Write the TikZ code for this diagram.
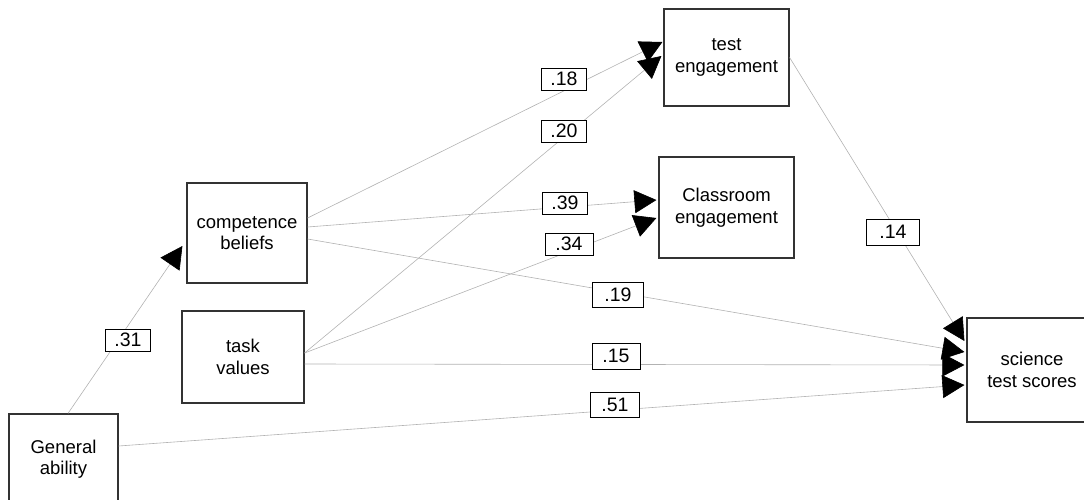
\documentclass[tikz,border=0pt]{standalone}
\usepackage{fontspec}
\setmainfont{Liberation Sans}
\usetikzlibrary{arrows.meta}
\tikzset{
  var/.style={draw=black!80,line width=1.2pt,fill=white,align=center,inner sep=0pt,
    font=\fontsize{18.5}{21.5}\selectfont},
  coef/.style={draw=black,line width=0.9pt,fill=white,inner sep=0pt,
    minimum width=45pt,minimum height=22pt,font=\fontsize{19.5}{22}\selectfont},
  link/.style={draw=black!30,line width=0.6pt,
    -{Triangle[length=22pt,width=23pt,color=black]}}
}
\begin{document}
\begin{tikzpicture}[x=1pt,y=-1pt]
%\draw[step=50,gray,very thin] (0,0) grid (1084,500); %background grid
\useasboundingbox (0,0) rectangle (1084,500);
\clip (0,0) rectangle (1084,500);

\node[var,minimum width=109pt,minimum height=90pt] (gen) at (63.5,459) {General\\ability};
\node[var,minimum width=120pt,minimum height=100pt] (comp) at (247,233) {competence\\beliefs};
\node[var,minimum width=122pt,minimum height=92pt] (task) at (243,357) {task\\values};
\node[var,minimum width=125pt,minimum height=97pt] (teng) at (726.5,57.5) {test\\engagement};
\node[var,minimum width=135pt,minimum height=101pt] (ceng) at (726.5,207.5) {Classroom\\engagement};
\node[var,minimum width=130pt,minimum height=104pt] (sci) at (1032,370) {science\\test scores};

\draw[link] ([xshift=4.5pt]gen.north) -- ([xshift=-4pt,yshift=-13pt]comp.west);
\draw[link] ([yshift=15pt]comp.east) -- ([xshift=-1pt,yshift=15.5pt]teng.west);
\draw[link] ([yshift=4pt]task.east) -- ([xshift=-2pt,yshift=1.5pt]teng.west);
\draw[link] ([yshift=6pt]comp.east) -- ([xshift=-2pt,yshift=7.5pt]ceng.west);
\draw[link] ([yshift=4pt]task.east) -- ([xshift=-2pt,yshift=-10.5pt]ceng.west);
\draw[link] (teng.east) -- ([xshift=-2pt,yshift=29pt]sci.west);
\draw[link] ([yshift=-6pt]comp.east) -- ([xshift=-2pt,yshift=18pt]sci.west);
\draw[link] ([yshift=-7pt]task.east) -- ([xshift=-2pt,yshift=5pt]sci.west);
\draw[link] ([yshift=13pt]gen.east) -- ([xshift=-2pt,yshift=-15pt]sci.west);

\node[coef] (c31) at (128,340) {.31};
\node[coef] (c18) at (564,79) {.18};
\node[coef] (c20) at (564,131) {.20};
\node[coef] (c39) at (565,203) {.39};
\node[coef,minimum width=48pt] (c34) at (569,244) {.34};
\node[coef,minimum width=53pt,minimum height=26pt] (c14) at (893,232) {.14};
\node[coef,minimum width=51pt,minimum height=25pt] (c19) at (618,295) {.19};
\node[coef,minimum width=48pt,minimum height=26pt] (c15) at (616,356) {.15};
\node[coef,minimum width=49pt,minimum height=25pt] (c51) at (615,405) {.51};
\end{tikzpicture}
\end{document}
